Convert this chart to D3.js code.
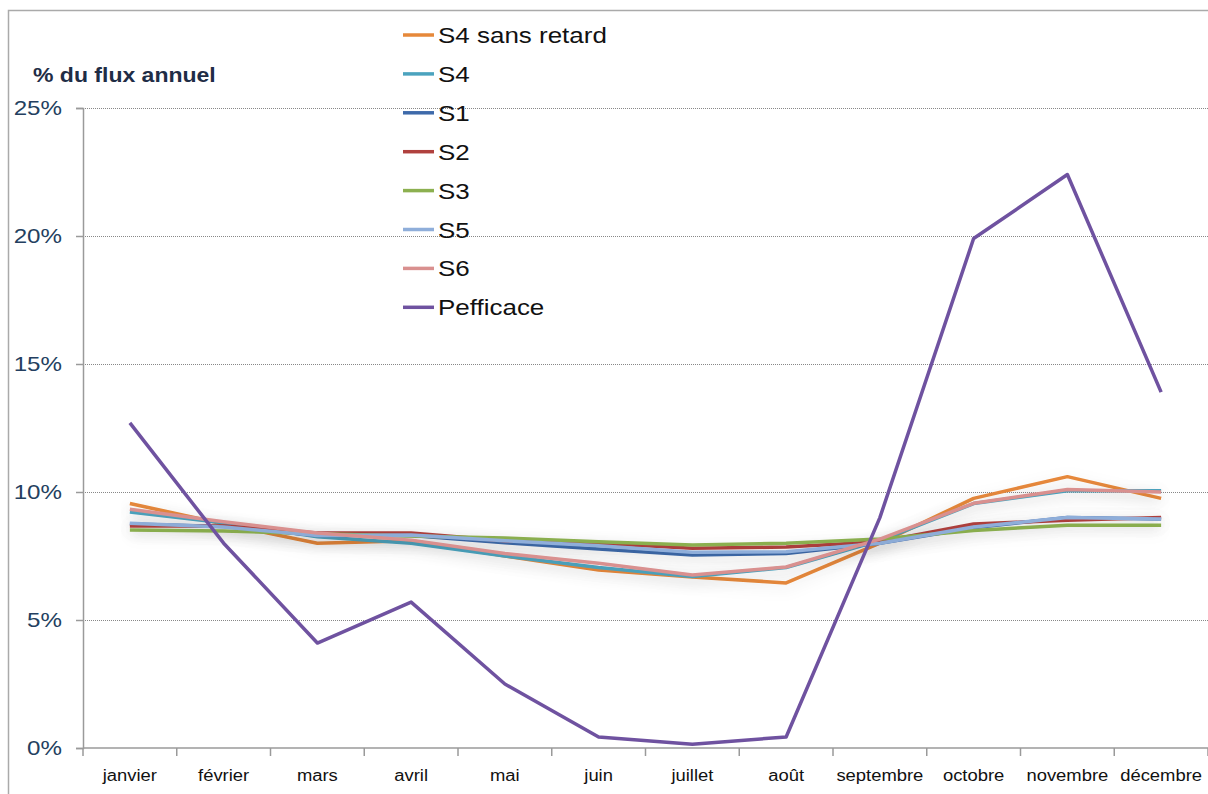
<!DOCTYPE html>
<html>
<head>
<meta charset="utf-8">
<script src="https://cdn.jsdelivr.net/npm/d3@7"></script>
<style>
  body { margin: 0; background: #fff; }
  svg { display: block; font-family: "Liberation Sans", Arial, sans-serif; }
</style>
</head>
<body>
<div id="chart"></div>
<script>
// months on the x axis
const months = ["janvier", "février", "mars", "avril", "mai", "juin", "juillet", "août", "septembre", "octobre", "novembre", "décembre"]

// monthly share of the annual flow, in %
const s4SansRetard = [9.55, 8.75, 8.0, 8.1, 7.5, 6.95, 6.68, 6.45, 8.0, 9.75, 10.6, 9.75]
const s4 = [9.22, 8.8, 8.25, 8.0, 7.5, 7.05, 6.7, 7.05, 8.1, 9.55, 10.05, 10.05]
const s1 = [8.75, 8.65, 8.3, 8.3, 8.02, 7.77, 7.54, 7.6, 8.0, 8.6, 9.0, 8.95]
const s2 = [8.67, 8.67, 8.4, 8.4, 8.1, 8.0, 7.8, 7.85, 8.06, 8.75, 8.9, 9.0]
const s3 = [8.52, 8.48, 8.37, 8.28, 8.2, 8.06, 7.93, 8.0, 8.16, 8.5, 8.7, 8.7]
const s5 = [8.78, 8.63, 8.3, 8.32, 8.1, 7.9, 7.65, 7.67, 8.0, 8.63, 9.0, 8.95]
const s6 = [9.33, 8.84, 8.4, 8.12, 7.6, 7.22, 6.76, 7.07, 8.16, 9.56, 10.1, 10.0]
const pefficace = [12.7, 8.0, 4.1, 5.7, 2.5, 0.43, 0.15, 0.43, 9.0, 19.9, 22.4, 13.9]

const seriesNames = ["S4 sans retard", "S4", "S1", "S2", "S3", "S5", "S6", "Pefficace"]
const seriesValues = [s4SansRetard, s4, s1, s2, s3, s5, s6, pefficace]
const seriesColors = ["#E6883A", "#4BA3BE", "#3E6AAA", "#B0413E", "#8CB050", "#8FAEDA", "#D9908F", "#6F52A0"]

const yTicks = [0, 5, 10, 15, 20, 25]

const width = 1208, height = 794
const margin = { top: 108, right: 0, bottom: 46, left: 83 }

const svg = d3.select("#chart").append("svg")
    .attr("width", width)
    .attr("height", height)

// soft glow under the lines, like the spreadsheet export
const defs = svg.append("defs")
defs.append("filter")
    .attr("id", "glow")
    .attr("x", "-10%").attr("y", "-50%")
    .attr("width", "120%").attr("height", "200%")
    .append("feDropShadow")
    .attr("dx", 0).attr("dy", 4)
    .attr("stdDeviation", 7)
    .attr("flood-color", "#000")
    .attr("flood-opacity", 0.10)

// outer frame (left and top edges are visible)
svg.append("path")
    .attr("d", `M8.5,${height} V10.5 H${width}`)
    .attr("fill", "none")
    .attr("stroke", "#aaaaaa")
    .attr("stroke-width", 1.5)

const x = d3.scaleBand()
    .domain(months)
    .range([margin.left, width - margin.right])

const y = d3.scaleLinear()
    .domain([0, 25])
    .range([height - margin.bottom, margin.top])

// dotted gridlines
svg.append("g")
    .selectAll("line")
    .data(yTicks.filter(t => t > 0))
    .join("line")
    .attr("x1", margin.left)
    .attr("x2", width)
    .attr("y1", d => Math.round(y(d)) + 0.5)
    .attr("y2", d => Math.round(y(d)) + 0.5)
    .attr("stroke", "#888")
    .attr("stroke-width", 1)
    .attr("stroke-dasharray", "1,1")

// Y axis
const yAxis = svg.append("g")
    .attr("transform", `translate(${margin.left},0)`)
    .call(d3.axisLeft(y).tickValues(yTicks).tickSize(7).tickPadding(14).tickFormat(d => d + "%"))
yAxis.select(".domain").attr("stroke", "#9a9a9a").attr("stroke-width", 1.5)
yAxis.selectAll(".tick line").attr("stroke", "#9a9a9a").attr("stroke-width", 1.5)
yAxis.selectAll(".tick text")
    .attr("class", "wide")
    .attr("fill", "#243F60")
    .style("font-size", "21px")
    .style("font-family", "Liberation Sans, Arial, sans-serif")

// X axis, ticks on the band edges
const xAxisG = svg.append("g")
    .attr("transform", `translate(0,${y(0)})`)
xAxisG.append("line")
    .attr("x1", margin.left).attr("x2", width)
    .attr("stroke", "#9a9a9a").attr("stroke-width", 1.5)
xAxisG.selectAll(".edge")
    .data(months.concat(["end"]))
    .join("line")
    .attr("class", "edge")
    .attr("x1", (d, i) => margin.left + i * x.bandwidth())
    .attr("x2", (d, i) => margin.left + i * x.bandwidth())
    .attr("y1", 0).attr("y2", 8)
    .attr("stroke", "#9a9a9a").attr("stroke-width", 1.5)
xAxisG.selectAll(".lbl")
    .data(months)
    .join("text")
    .attr("class", "lbl wide")
    .attr("x", d => x(d) + x.bandwidth() / 2)
    .attr("y", 33)
    .attr("text-anchor", "middle")
    .attr("fill", "#111")
    .style("font-size", "16px")
    .text(d => d)

// axis title
svg.append("text")
    .attr("class", "wide")
    .attr("x", 33)
    .attr("y", 82)
    .attr("fill", "#1F2D46")
    .style("font-size", "20px")
    .style("font-weight", "bold")
    .text("% du flux annuel")

// lines
const line = d3.line()
    .x((d, i) => x(months[i]) + x.bandwidth() / 2)
    .y(d => y(d))

svg.append("g")
    .selectAll("path")
    .data(seriesValues)
    .join("path")
    .attr("d", line)
    .attr("fill", "none")
    .attr("stroke", (d, i) => seriesColors[i])
    .attr("stroke-width", 3.5)
    .attr("stroke-linejoin", "round")
    .attr("filter", (d, i) => seriesNames[i] === "Pefficace" ? null : "url(#glow)")

// legend
const legend = svg.append("g")
    .attr("transform", "translate(403,35)")
const legendItem = legend.selectAll("g")
    .data(seriesNames)
    .join("g")
    .attr("transform", (d, i) => `translate(0,${i * 38.9})`)
legendItem.append("line")
    .attr("x1", 0).attr("x2", 31)
    .attr("stroke", (d, i) => seriesColors[i])
    .attr("stroke-width", 3.5)
legendItem.append("text")
    .attr("class", "legendText")
    .attr("x", 35)
    .attr("y", 8)
    .attr("fill", "#111")
    .style("font-size", "22px")
    .text(d => d)

// the source picture is stretched horizontally, widen the glyphs to match
function widen(sel, k) {
    sel.each(function () {
        const w = this.getComputedTextLength()
        d3.select(this).attr("textLength", w * k).attr("lengthAdjust", "spacingAndGlyphs")
    })
}
widen(svg.selectAll("text.wide"), 1.15)
widen(svg.selectAll("text.legendText"), 1.18)
</script>
</body>
</html>
